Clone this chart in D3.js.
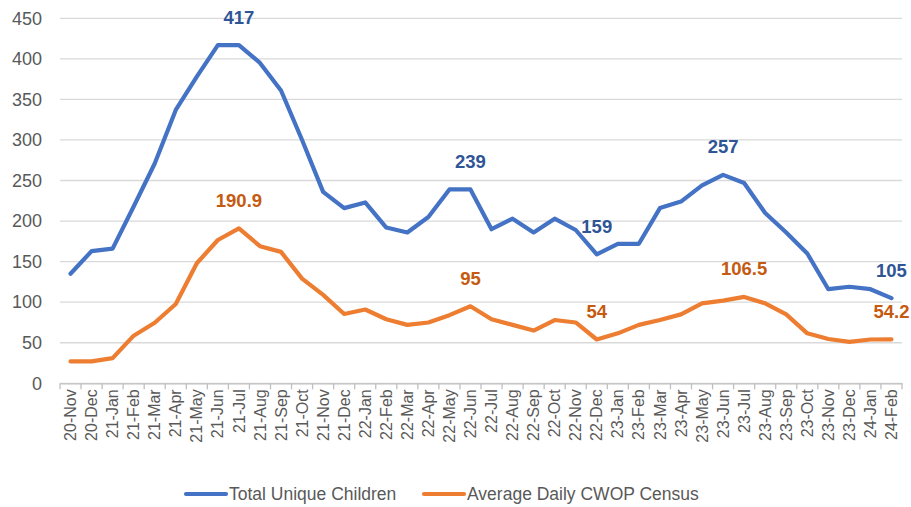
<!DOCTYPE html>
<html>
<head>
<meta charset="utf-8">
<script src="https://cdn.jsdelivr.net/npm/d3@7"></script>
<style>
  body { margin: 0; background: #fff; }
  svg { display: block; font-family: "Liberation Sans", Arial, sans-serif; }
</style>
</head>
<body>
<svg id="chart" width="911" height="507"></svg>
<script>
// 카테고리 (월)
var months = ["20-Nov","20-Dec",
  "21-Jan","21-Feb","21-Mar","21-Apr","21-May","21-Jun","21-Jul","21-Aug","21-Sep","21-Oct","21-Nov","21-Dec",
  "22-Jan","22-Feb","22-Mar","22-Apr","22-May","22-Jun","22-Jul","22-Aug","22-Sep","22-Oct","22-Nov","22-Dec",
  "23-Jan","23-Feb","23-Mar","23-Apr","23-May","23-Jun","23-Jul","23-Aug","23-Sep","23-Oct","23-Nov","23-Dec",
  "24-Jan","24-Feb"];

var totalChildren = [135,163,166,218,271,337,378,417,417,395,361,300,236,216,223,192,186,205,239,239,
  190,203,186,203,189,159,172,172,216,224,244,257,247,210,186,160,116,119,116,105];

var cwopCensus = [27,27,31,58.7,74.7,97.8,148,176.7,190.9,169,162,129,109,85.5,91,79,72,75,84,95,
  79,72,65,78,75,54,61.6,72,78,85,98.6,102,106.5,98.6,85,61.6,54.6,51,54,54.2];

var yTicks = [0,50,100,150,200,250,300,350,400,450];

// 값 라벨을 붙일 점 (인덱스)
var blueLabelIdx = [8,19,25,31,39];
var orangeLabelIdx = [8,19,25,32,39];

var seriesNames = ["Total Unique Children","Average Daily CWOP Census"];
var lineColors = ["#4472C4","#ED7D31"];
var labelColors = ["#2F5597","#C55A11"];

var svg = d3.select("#chart");
var margin = {left: 60, right: 10, top: 18, bottom: 124};

var x = d3.scaleBand().domain(months).range([margin.left, 902]).padding(0);
var y = d3.scaleLinear().domain([0,450]).range([383.3, 18.3]);

//그리드
svg.append("g").selectAll("line").data(yTicks).enter().append("line")
  .attr("x1", margin.left).attr("x2", 902)
  .attr("y1", function(d){ return y(d); }).attr("y2", function(d){ return y(d); })
  .attr("stroke", "#d9d9d9").attr("stroke-width", 1.3);

// y축 라벨
svg.append("g").selectAll("text").data(yTicks).enter().append("text")
  .attr("x", 42).attr("y", function(d){ return y(d); })
  .attr("dy", "0.35em").attr("text-anchor", "end")
  .attr("font-size", 18).attr("fill", "#595959")
  .text(function(d){ return d; });

// x축
var xAxis = svg.append("g").attr("transform", "translate(0," + y(0) + ")")
  .call(d3.axisBottom(x).tickSize(0).tickPadding(0));
xAxis.select(".domain").attr("stroke", "#bfbfbf").attr("stroke-width", 1.3);
xAxis.selectAll(".tick text")
  .attr("transform", "rotate(-90)")
  .attr("text-anchor", "end")
  .attr("x", -6).attr("y", 0).attr("dy", "0.35em")
  .attr("font-size", 16).attr("fill", "#595959")
  .attr("font-family", "\"Liberation Sans\", Arial, sans-serif");

// 눈금 (카테고리 경계)
var bounds = months.map(function(m){ return x(m); }).concat([x.range()[1]]);
svg.append("g").selectAll("line").data(bounds).enter().append("line")
  .attr("x1", function(d){ return d; }).attr("x2", function(d){ return d; })
  .attr("y1", y(0)).attr("y2", y(0) + 6)
  .attr("stroke", "#bfbfbf").attr("stroke-width", 1.3);

var cx = function(d, i){ return x(months[i]) + x.bandwidth()/2; };
var line = d3.line().x(cx).y(function(d){ return y(d); });

[totalChildren, cwopCensus].forEach(function(data, s){
  svg.append("path").datum(data)
    .attr("d", line)
    .attr("fill", "none")
    .attr("stroke", lineColors[s])
    .attr("stroke-width", 4.2)
    .attr("stroke-linejoin", "round")
    .attr("stroke-linecap", "round");
});

// 데이터 라벨
function addLabels(data, idx, color){
  svg.append("g").selectAll("text").data(idx).enter().append("text")
    .attr("x", function(i){ return x(months[i]) + x.bandwidth()/2; })
    .attr("y", function(i){ return y(data[i]) - 28; })
    .attr("dy", "0.35em").attr("text-anchor", "middle")
    .attr("font-size", 18.5).attr("font-weight", "bold")
    .attr("fill", color)
    .text(function(i){ return data[i]; });
}
addLabels(totalChildren, blueLabelIdx, labelColors[0]);
addLabels(cwopCensus, orangeLabelIdx, labelColors[1]);

// 범례
var legendX = [184, 422];
var legend = svg.append("g").selectAll("g").data(seriesNames).enter().append("g")
  .attr("transform", function(d, i){ return "translate(" + legendX[i] + ",494)"; });
legend.append("line")
  .attr("x1", 2).attr("x2", 42).attr("y1", 0).attr("y2", 0)
  .attr("stroke", function(d, i){ return lineColors[i]; })
  .attr("stroke-width", 4.2).attr("stroke-linecap", "round");
legend.append("text")
  .attr("x", 45).attr("dy", "0.35em")
  .attr("font-size", 17.5).attr("fill", "#595959")
  .text(function(d){ return d; });
</script>
</body>
</html>
